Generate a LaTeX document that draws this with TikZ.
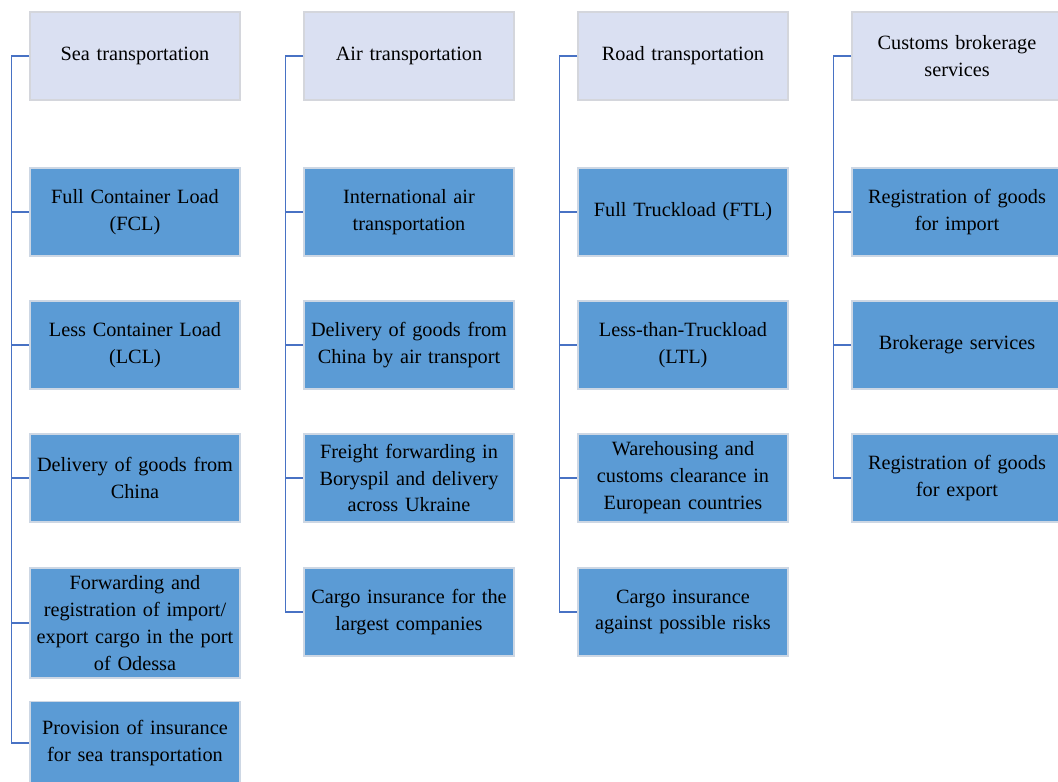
\documentclass[tikz,border=0pt]{standalone}
\usepackage{fontspec}
\setmainfont{Liberation Serif}
\definecolor{headfill}{RGB}{218,224,242}
\definecolor{headline}{RGB}{212,214,220}
\definecolor{itemfill}{RGB}{91,155,213}
\definecolor{itemline}{RGB}{205,215,228}
\definecolor{conncol}{RGB}{72,114,196}
\tikzset{
  box/.style={rectangle, minimum width=157.5pt, minimum height=66pt, inner sep=2pt,
    align=center, text width=152pt,
    font=\fontsize{15.2pt}{20.2pt}\selectfont, text=black},
  headbox/.style={box, fill=headfill, draw=headline, line width=0.8pt},
  itembox/.style={box, fill=itemfill, draw=itemline, line width=0.8pt},
  conn/.style={draw=conncol, line width=1.1pt}
}
\begin{document}
\begin{tikzpicture}[x=0.75pt, y=-0.75pt]
\clip (0,0) rectangle (1058,782);
\fill[white] (0,0) rectangle (1058,782);

% Sea transportation
\node[headbox] (h1) at (135,56) {Sea transportation};
\node[itembox] (a1) at (135,212) {Full Container Load\\(FCL)};
\node[itembox] (a2) at (135,345) {Less Container Load\\(LCL)};
\node[itembox] (a3) at (135,478) {Delivery of goods from\\China};
\node[itembox, minimum height=82.5pt] (a4) at (135,623) {Forwarding and\\registration of import/\\export cargo in the port\\of Odessa};
\node[itembox, minimum height=62pt] (a5) at (135,743) {Provision of insurance\\for sea transportation};

% Air transportation
\node[headbox] (h2) at (409,56) {Air transportation};
\node[itembox] (b1) at (409,212) {International air\\transportation};
\node[itembox] (b2) at (409,345) {Delivery of goods from\\China by air transport};
\node[itembox] (b3) at (409,478) {Freight forwarding in\\Boryspil and delivery\\across Ukraine};
\node[itembox] (b4) at (409,612) {Cargo insurance for the\\largest companies};

% Road transportation
\node[headbox] (h3) at (683,56) {Road transportation};
\node[itembox] (c1) at (683,212) {Full Truckload (FTL)};
\node[itembox] (c2) at (683,345) {Less-than-Truckload\\(LTL)};
\node[itembox] (c3) at (683,478) {Warehousing and\\customs clearance in\\European countries};
\node[itembox] (c4) at (683,612) {Cargo insurance\\against possible risks};

% Customs brokerage services
\node[headbox] (h4) at (957,56) {Customs brokerage\\services};
\node[itembox] (d1) at (957,212) {Registration of goods\\for import};
\node[itembox] (d2) at (957,345) {Brokerage services};
\node[itembox] (d3) at (957,478) {Registration of goods\\for export};

% Spines: header to last item, with a stub to every item
\coordinate (s1) at ([xshift=-13.5pt]h1.west);
\coordinate (s2) at ([xshift=-13.5pt]h2.west);
\coordinate (s3) at ([xshift=-13.5pt]h3.west);
\coordinate (s4) at ([xshift=-13.5pt]h4.west);

\path[conn] (h1.west) -- (s1) |- (a5.west);
\foreach \n in {a1,a2,a3,a4} \path[conn] (s1 |- \n.west) -- (\n.west);
\path[conn] (h2.west) -- (s2) |- (b4.west);
\foreach \n in {b1,b2,b3} \path[conn] (s2 |- \n.west) -- (\n.west);
\path[conn] (h3.west) -- (s3) |- (c4.west);
\foreach \n in {c1,c2,c3} \path[conn] (s3 |- \n.west) -- (\n.west);
\path[conn] (h4.west) -- (s4) |- (d3.west);
\foreach \n in {d1,d2} \path[conn] (s4 |- \n.west) -- (\n.west);
\end{tikzpicture}
\end{document}
